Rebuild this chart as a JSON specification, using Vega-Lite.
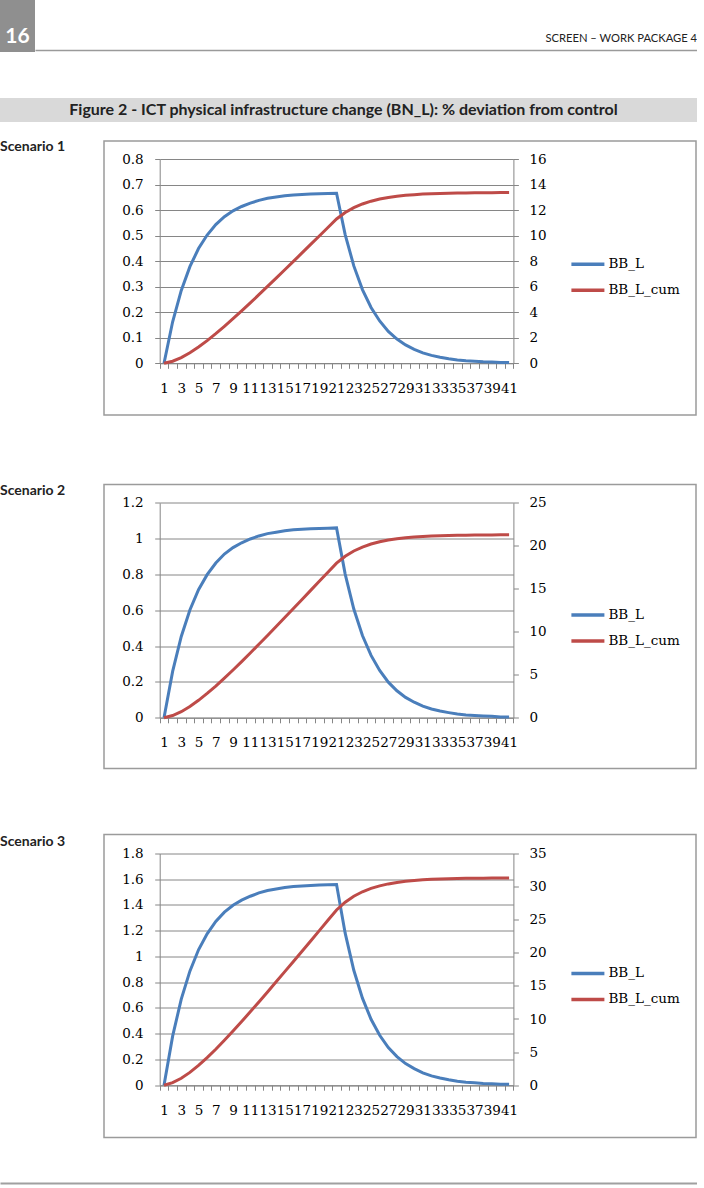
{
  "$schema": "https://vega.github.io/schema/vega-lite/v6.json",
  "padding": 0,
  "background": "white",
  "config": {
    "view": {"stroke": null},
    "axis": {"labelFont": "DejaVu Serif", "labelFontSize": 13.5, "labelColor": "#000000", "domainColor": "#868686", "tickColor": "#868686", "gridColor": "#868686", "tickSize": 5, "title": null},
    "legend": {"labelFont": "DejaVu Serif", "labelFontSize": 13.5, "labelColor": "#000000"}
  },
  "datasets": {
    "s1": [
      {"t": 1, "BB_L": 0, "BB_L_cum": 0},
      {"t": 2, "BB_L": 0.163, "BB_L_cum": 0.163},
      {"t": 3, "BB_L": 0.286, "BB_L_cum": 0.449},
      {"t": 4, "BB_L": 0.379, "BB_L_cum": 0.828},
      {"t": 5, "BB_L": 0.45, "BB_L_cum": 1.278},
      {"t": 6, "BB_L": 0.503, "BB_L_cum": 1.781},
      {"t": 7, "BB_L": 0.544, "BB_L_cum": 2.325},
      {"t": 8, "BB_L": 0.575, "BB_L_cum": 2.9},
      {"t": 9, "BB_L": 0.598, "BB_L_cum": 3.498},
      {"t": 10, "BB_L": 0.615, "BB_L_cum": 4.113},
      {"t": 11, "BB_L": 0.628, "BB_L_cum": 4.741},
      {"t": 12, "BB_L": 0.639, "BB_L_cum": 5.38},
      {"t": 13, "BB_L": 0.647, "BB_L_cum": 6.027},
      {"t": 14, "BB_L": 0.652, "BB_L_cum": 6.679},
      {"t": 15, "BB_L": 0.657, "BB_L_cum": 7.336},
      {"t": 16, "BB_L": 0.66, "BB_L_cum": 7.996},
      {"t": 17, "BB_L": 0.662, "BB_L_cum": 8.658},
      {"t": 18, "BB_L": 0.664, "BB_L_cum": 9.322},
      {"t": 19, "BB_L": 0.665, "BB_L_cum": 9.987},
      {"t": 20, "BB_L": 0.666, "BB_L_cum": 10.653},
      {"t": 21, "BB_L": 0.667, "BB_L_cum": 11.32},
      {"t": 22, "BB_L": 0.505, "BB_L_cum": 11.825},
      {"t": 23, "BB_L": 0.382, "BB_L_cum": 12.207},
      {"t": 24, "BB_L": 0.289, "BB_L_cum": 12.496},
      {"t": 25, "BB_L": 0.219, "BB_L_cum": 12.715},
      {"t": 26, "BB_L": 0.166, "BB_L_cum": 12.881},
      {"t": 27, "BB_L": 0.125, "BB_L_cum": 13.006},
      {"t": 28, "BB_L": 0.095, "BB_L_cum": 13.101},
      {"t": 29, "BB_L": 0.072, "BB_L_cum": 13.173},
      {"t": 30, "BB_L": 0.055, "BB_L_cum": 13.228},
      {"t": 31, "BB_L": 0.041, "BB_L_cum": 13.269},
      {"t": 32, "BB_L": 0.031, "BB_L_cum": 13.3},
      {"t": 33, "BB_L": 0.024, "BB_L_cum": 13.324},
      {"t": 34, "BB_L": 0.018, "BB_L_cum": 13.342},
      {"t": 35, "BB_L": 0.013, "BB_L_cum": 13.355},
      {"t": 36, "BB_L": 0.01, "BB_L_cum": 13.365},
      {"t": 37, "BB_L": 0.008, "BB_L_cum": 13.373},
      {"t": 38, "BB_L": 0.006, "BB_L_cum": 13.379},
      {"t": 39, "BB_L": 0.005, "BB_L_cum": 13.384},
      {"t": 40, "BB_L": 0.003, "BB_L_cum": 13.387},
      {"t": 41, "BB_L": 0.003, "BB_L_cum": 13.39}
    ],
    "s2": [
      {"t": 1, "BB_L": 0, "BB_L_cum": 0},
      {"t": 2, "BB_L": 0.259, "BB_L_cum": 0.259},
      {"t": 3, "BB_L": 0.454, "BB_L_cum": 0.713},
      {"t": 4, "BB_L": 0.602, "BB_L_cum": 1.316},
      {"t": 5, "BB_L": 0.715, "BB_L_cum": 2.031},
      {"t": 6, "BB_L": 0.799, "BB_L_cum": 2.83},
      {"t": 7, "BB_L": 0.864, "BB_L_cum": 3.694},
      {"t": 8, "BB_L": 0.914, "BB_L_cum": 4.608},
      {"t": 9, "BB_L": 0.95, "BB_L_cum": 5.558},
      {"t": 10, "BB_L": 0.977, "BB_L_cum": 6.536},
      {"t": 11, "BB_L": 0.998, "BB_L_cum": 7.533},
      {"t": 12, "BB_L": 1.015, "BB_L_cum": 8.549},
      {"t": 13, "BB_L": 1.028, "BB_L_cum": 9.577},
      {"t": 14, "BB_L": 1.036, "BB_L_cum": 10.613},
      {"t": 15, "BB_L": 1.044, "BB_L_cum": 11.657},
      {"t": 16, "BB_L": 1.049, "BB_L_cum": 12.706},
      {"t": 17, "BB_L": 1.052, "BB_L_cum": 13.758},
      {"t": 18, "BB_L": 1.055, "BB_L_cum": 14.813},
      {"t": 19, "BB_L": 1.057, "BB_L_cum": 15.869},
      {"t": 20, "BB_L": 1.058, "BB_L_cum": 16.928},
      {"t": 21, "BB_L": 1.06, "BB_L_cum": 17.987},
      {"t": 22, "BB_L": 0.802, "BB_L_cum": 18.79},
      {"t": 23, "BB_L": 0.607, "BB_L_cum": 19.397},
      {"t": 24, "BB_L": 0.459, "BB_L_cum": 19.856},
      {"t": 25, "BB_L": 0.348, "BB_L_cum": 20.204},
      {"t": 26, "BB_L": 0.264, "BB_L_cum": 20.468},
      {"t": 27, "BB_L": 0.199, "BB_L_cum": 20.667},
      {"t": 28, "BB_L": 0.151, "BB_L_cum": 20.817},
      {"t": 29, "BB_L": 0.114, "BB_L_cum": 20.932},
      {"t": 30, "BB_L": 0.087, "BB_L_cum": 21.019},
      {"t": 31, "BB_L": 0.065, "BB_L_cum": 21.084},
      {"t": 32, "BB_L": 0.049, "BB_L_cum": 21.134},
      {"t": 33, "BB_L": 0.038, "BB_L_cum": 21.172},
      {"t": 34, "BB_L": 0.029, "BB_L_cum": 21.2},
      {"t": 35, "BB_L": 0.021, "BB_L_cum": 21.221},
      {"t": 36, "BB_L": 0.016, "BB_L_cum": 21.237},
      {"t": 37, "BB_L": 0.013, "BB_L_cum": 21.25},
      {"t": 38, "BB_L": 0.01, "BB_L_cum": 21.259},
      {"t": 39, "BB_L": 0.008, "BB_L_cum": 21.267},
      {"t": 40, "BB_L": 0.005, "BB_L_cum": 21.272},
      {"t": 41, "BB_L": 0.005, "BB_L_cum": 21.277}
    ],
    "s3": [
      {"t": 1, "BB_L": 0, "BB_L_cum": 0},
      {"t": 2, "BB_L": 0.381, "BB_L_cum": 0.381},
      {"t": 3, "BB_L": 0.669, "BB_L_cum": 1.05},
      {"t": 4, "BB_L": 0.886, "BB_L_cum": 1.936},
      {"t": 5, "BB_L": 1.052, "BB_L_cum": 2.988},
      {"t": 6, "BB_L": 1.176, "BB_L_cum": 4.164},
      {"t": 7, "BB_L": 1.272, "BB_L_cum": 5.436},
      {"t": 8, "BB_L": 1.344, "BB_L_cum": 6.78},
      {"t": 9, "BB_L": 1.398, "BB_L_cum": 8.178},
      {"t": 10, "BB_L": 1.438, "BB_L_cum": 9.616},
      {"t": 11, "BB_L": 1.468, "BB_L_cum": 11.084},
      {"t": 12, "BB_L": 1.494, "BB_L_cum": 12.578},
      {"t": 13, "BB_L": 1.513, "BB_L_cum": 14.091},
      {"t": 14, "BB_L": 1.524, "BB_L_cum": 15.615},
      {"t": 15, "BB_L": 1.536, "BB_L_cum": 17.152},
      {"t": 16, "BB_L": 1.543, "BB_L_cum": 18.695},
      {"t": 17, "BB_L": 1.548, "BB_L_cum": 20.242},
      {"t": 18, "BB_L": 1.552, "BB_L_cum": 21.795},
      {"t": 19, "BB_L": 1.555, "BB_L_cum": 23.35},
      {"t": 20, "BB_L": 1.557, "BB_L_cum": 24.907},
      {"t": 21, "BB_L": 1.559, "BB_L_cum": 26.466},
      {"t": 22, "BB_L": 1.181, "BB_L_cum": 27.647},
      {"t": 23, "BB_L": 0.893, "BB_L_cum": 28.54},
      {"t": 24, "BB_L": 0.676, "BB_L_cum": 29.216},
      {"t": 25, "BB_L": 0.512, "BB_L_cum": 29.728},
      {"t": 26, "BB_L": 0.388, "BB_L_cum": 30.116},
      {"t": 27, "BB_L": 0.292, "BB_L_cum": 30.408},
      {"t": 28, "BB_L": 0.222, "BB_L_cum": 30.63},
      {"t": 29, "BB_L": 0.168, "BB_L_cum": 30.798},
      {"t": 30, "BB_L": 0.129, "BB_L_cum": 30.927},
      {"t": 31, "BB_L": 0.096, "BB_L_cum": 31.023},
      {"t": 32, "BB_L": 0.072, "BB_L_cum": 31.095},
      {"t": 33, "BB_L": 0.056, "BB_L_cum": 31.152},
      {"t": 34, "BB_L": 0.042, "BB_L_cum": 31.194},
      {"t": 35, "BB_L": 0.03, "BB_L_cum": 31.224},
      {"t": 36, "BB_L": 0.023, "BB_L_cum": 31.247},
      {"t": 37, "BB_L": 0.019, "BB_L_cum": 31.266},
      {"t": 38, "BB_L": 0.014, "BB_L_cum": 31.28},
      {"t": 39, "BB_L": 0.012, "BB_L_cum": 31.292},
      {"t": 40, "BB_L": 0.007, "BB_L_cum": 31.299},
      {"t": 41, "BB_L": 0.007, "BB_L_cum": 31.306}
    ],
    "header": [{"pos": 1, "label": "SCREEN – WORK PACKAGE 4"}],
    "page": [{"label": "16"}],
    "figtitle": [{"label": "Figure 2 - ICT physical infrastructure change (BN_L): % deviation from control"}],
    "footer": [{"pos": 0.5}],
    "lab1": [{"px": 0, "py": 1, "label": "Scenario 1"}],
    "lab2": [{"px": 0, "py": 1, "label": "Scenario 2"}],
    "lab3": [{"px": 0, "py": 1, "label": "Scenario 3"}]
  },
  "concat": [
    {
      "hconcat": [
        {
          "width": 35, "height": 52,
          "view": {"fill": "#8f8f8f", "stroke": null},
          "data": {"name": "page"},
          "mark": {"type": "text", "color": "#ffffff", "fontWeight": "bold", "fontSize": 21, "font": "Lato", "baseline": "middle", "dy": 11},
          "encoding": {"text": {"field": "label", "type": "nominal"}}
        },
        {
          "width": 662, "height": 50,
          "data": {"name": "header"},
          "mark": {"type": "text", "align": "right", "baseline": "alphabetic", "dy": 17, "fontSize": 11.2, "color": "#222222", "font": "Lato"},
          "encoding": {
            "x": {"field": "pos", "type": "quantitative", "scale": {"domain": [0, 1]}, "axis": {"domain": true, "domainColor": "#9a9a9a", "domainWidth": 1.5, "labels": false, "ticks": false, "grid": false, "title": null}},
            "text": {"field": "label", "type": "nominal"}
          }
        }
      ],
      "spacing": 0
    },
    {
      "concat": [
        {
          "concat": [
            {
              "width": 697, "height": 24,
              "view": {"fill": "#d9d9d9", "stroke": null},
              "data": {"name": "figtitle"},
              "mark": {"type": "text", "fontWeight": "bold", "fontSize": 16, "color": "#222222", "baseline": "middle", "font": "Lato", "dx": -5},
              "encoding": {"text": {"field": "label", "type": "nominal"}}
            },
            {
              "concat": [
                {
                  "hconcat": [
                    {
                      "width": 103, "height": 274,
                      "data": {"name": "lab1"},
                      "mark": {"type": "text", "align": "left", "baseline": "middle", "dy": 6, "font": "Lato", "fontSize": 14, "fontWeight": "bold", "color": "#222222"},
                      "encoding": {
                        "x": {"field": "px", "type": "quantitative", "scale": {"domain": [0, 1]}, "axis": null},
                        "y": {"field": "py", "type": "quantitative", "scale": {"domain": [0, 1]}, "axis": null},
                        "text": {"field": "label", "type": "nominal"}
                      }
                    },
                    {
                      "width": 592, "height": 274,
                      "view": {"stroke": "#9b9b9b", "strokeWidth": 1.5},
                      "data": {"name": "s1"},
                      "encoding": {
                        "x": {"field": "t", "type": "ordinal", "scale": {"type": "band", "range": [55.7, 409.4], "paddingInner": 0, "paddingOuter": 0},
                          "axis": {"orient": "bottom", "offset": -51.7, "tickBand": "extent", "labelAngle": 0, "labelOverlap": false, "labelBound": false, "labelFlush": false, "labelPadding": 13, "labelExpr": "datum.value % 2 == 1 ? datum.label : ''", "grid": false}}
                      },
                      "layer": [
                        {
                          "mark": {"type": "line", "strokeWidth": 3},
                          "encoding": {
                            "y": {"field": "BB_L", "type": "quantitative", "scale": {"domain": [0, 0.8], "range": [222.3, 18.3]},
                              "axis": {"orient": "left", "offset": -55.7, "values": [0, 0.1, 0.2, 0.3, 0.4, 0.5, 0.6, 0.7, 0.8], "format": "~g", "grid": true, "labelPadding": 11.5}},
                            "color": {"datum": "BB_L", "type": "nominal", "scale": {"domain": ["BB_L", "BB_L_cum"], "range": ["#4a7ebb", "#be4b48"]},
                              "legend": {"orient": "none", "legendX": 465.4, "legendY": 104.7, "title": null, "symbolType": "stroke", "symbolSize": 1089, "symbolStrokeWidth": 3.5, "labelOffset": 2, "rowPadding": -2, "padding": 0}}
                          }
                        },
                        {
                          "mark": {"type": "line", "strokeWidth": 3},
                          "encoding": {
                            "y": {"field": "BB_L_cum", "type": "quantitative", "scale": {"domain": [0, 16], "range": [222.3, 18.3]},
                              "axis": {"orient": "right", "offset": -182.6, "values": [0, 2, 4, 6, 8, 10, 12, 14, 16], "grid": false, "labelPadding": 10.5}},
                            "color": {"datum": "BB_L_cum", "type": "nominal"}
                          }
                        }
                      ],
                      "resolve": {"scale": {"y": "independent"}, "axis": {"y": "independent"}}
                    }
                  ],
                  "spacing": 0,
                  "resolve": {"scale": {"color": "independent"}, "legend": {"color": "independent"}}
                },
                {
                  "concat": [
                    {
                      "hconcat": [
                        {
                          "width": 103, "height": 284,
                          "data": {"name": "lab2"},
                          "mark": {"type": "text", "align": "left", "baseline": "middle", "dy": 6, "font": "Lato", "fontSize": 14, "fontWeight": "bold", "color": "#222222"},
                          "encoding": {
                            "x": {"field": "px", "type": "quantitative", "scale": {"domain": [0, 1]}, "axis": null},
                            "y": {"field": "py", "type": "quantitative", "scale": {"domain": [0, 1]}, "axis": null},
                            "text": {"field": "label", "type": "nominal"}
                          }
                        },
                        {
                          "width": 592, "height": 284,
                          "view": {"stroke": "#9b9b9b", "strokeWidth": 1.5},
                          "data": {"name": "s2"},
                          "encoding": {
                            "x": {"field": "t", "type": "ordinal", "scale": {"type": "band", "range": [55.7, 409.4], "paddingInner": 0, "paddingOuter": 0},
                              "axis": {"orient": "bottom", "offset": -50.7, "tickBand": "extent", "labelAngle": 0, "labelOverlap": false, "labelBound": false, "labelFlush": false, "labelPadding": 13, "labelExpr": "datum.value % 2 == 1 ? datum.label : ''", "grid": false}}
                          },
                          "layer": [
                            {
                              "mark": {"type": "line", "strokeWidth": 3},
                              "encoding": {
                                "y": {"field": "BB_L", "type": "quantitative", "scale": {"domain": [0, 1.2], "range": [233.3, 18.3]},
                                  "axis": {"orient": "left", "offset": -55.7, "values": [0, 0.2, 0.4, 0.6, 0.8, 1, 1.2], "format": "~g", "grid": true, "labelPadding": 11.5}},
                                "color": {"datum": "BB_L", "type": "nominal", "scale": {"domain": ["BB_L", "BB_L_cum"], "range": ["#4a7ebb", "#be4b48"]},
                                  "legend": {"orient": "none", "legendX": 465.4, "legendY": 112, "title": null, "symbolType": "stroke", "symbolSize": 1089, "symbolStrokeWidth": 3.5, "labelOffset": 2, "rowPadding": -2, "padding": 0}}
                              }
                            },
                            {
                              "mark": {"type": "line", "strokeWidth": 3},
                              "encoding": {
                                "y": {"field": "BB_L_cum", "type": "quantitative", "scale": {"domain": [0, 25], "range": [233.3, 18.3]},
                                  "axis": {"orient": "right", "offset": -182.6, "values": [0, 5, 10, 15, 20, 25], "grid": false, "labelPadding": 10.5}},
                                "color": {"datum": "BB_L_cum", "type": "nominal"}
                              }
                            }
                          ],
                          "resolve": {"scale": {"y": "independent"}, "axis": {"y": "independent"}}
                        }
                      ],
                      "spacing": 0,
                      "resolve": {"scale": {"color": "independent"}, "legend": {"color": "independent"}}
                    },
                    {
                      "hconcat": [
                        {
                          "width": 103, "height": 303,
                          "data": {"name": "lab3"},
                          "mark": {"type": "text", "align": "left", "baseline": "middle", "dy": 7, "font": "Lato", "fontSize": 14, "fontWeight": "bold", "color": "#222222"},
                          "encoding": {
                            "x": {"field": "px", "type": "quantitative", "scale": {"domain": [0, 1]}, "axis": null},
                            "y": {"field": "py", "type": "quantitative", "scale": {"domain": [0, 1]}, "axis": null},
                            "text": {"field": "label", "type": "nominal"}
                          }
                        },
                        {
                          "width": 592, "height": 303,
                          "view": {"stroke": "#9b9b9b", "strokeWidth": 1.5},
                          "data": {"name": "s3"},
                          "encoding": {
                            "x": {"field": "t", "type": "ordinal", "scale": {"type": "band", "range": [55.7, 409.4], "paddingInner": 0, "paddingOuter": 0},
                              "axis": {"orient": "bottom", "offset": -52.3, "tickBand": "extent", "labelAngle": 0, "labelOverlap": false, "labelBound": false, "labelFlush": false, "labelPadding": 13, "labelExpr": "datum.value % 2 == 1 ? datum.label : ''", "grid": false}}
                          },
                          "layer": [
                            {
                              "mark": {"type": "line", "strokeWidth": 3},
                              "encoding": {
                                "y": {"field": "BB_L", "type": "quantitative", "scale": {"domain": [0, 1.8], "range": [250.7, 19]},
                                  "axis": {"orient": "left", "offset": -55.7, "values": [0, 0.2, 0.4, 0.6, 0.8, 1, 1.2, 1.4, 1.6, 1.8], "format": "~g", "grid": true, "labelPadding": 11.5}},
                                "color": {"datum": "BB_L", "type": "nominal", "scale": {"domain": ["BB_L", "BB_L_cum"], "range": ["#4a7ebb", "#be4b48"]},
                                  "legend": {"orient": "none", "legendX": 465.4, "legendY": 120.4, "title": null, "symbolType": "stroke", "symbolSize": 1089, "symbolStrokeWidth": 3.5, "labelOffset": 2, "rowPadding": -2, "padding": 0}}
                              }
                            },
                            {
                              "mark": {"type": "line", "strokeWidth": 3},
                              "encoding": {
                                "y": {"field": "BB_L_cum", "type": "quantitative", "scale": {"domain": [0, 35], "range": [250.7, 19]},
                                  "axis": {"orient": "right", "offset": -182.6, "values": [0, 5, 10, 15, 20, 25, 30, 35], "grid": false, "labelPadding": 10.5}},
                                "color": {"datum": "BB_L_cum", "type": "nominal"}
                              }
                            }
                          ],
                          "resolve": {"scale": {"y": "independent"}, "axis": {"y": "independent"}}
                        }
                      ],
                      "spacing": 0,
                      "resolve": {"scale": {"color": "independent"}, "legend": {"color": "independent"}}
                    }
                  ],
                  "columns": 1, "align": "none", "spacing": 64,
                  "resolve": {"scale": {"color": "independent"}, "legend": {"color": "independent"}}
                }
              ],
              "columns": 1, "align": "none", "spacing": 67.5,
              "resolve": {"scale": {"color": "independent"}, "legend": {"color": "independent"}}
            }
          ],
          "columns": 1, "align": "none", "spacing": 18
        },
        {
          "width": 697, "height": 1,
          "data": {"name": "footer"},
          "mark": {"type": "point", "opacity": 0},
          "encoding": {
            "x": {"field": "pos", "type": "quantitative", "scale": {"domain": [0, 1]}, "axis": {"domain": true, "domainColor": "#a0a0a0", "domainWidth": 2, "labels": false, "ticks": false, "grid": false, "title": null}}
          }
        }
      ],
      "columns": 1, "align": "none", "spacing": 40
    }
  ],
  "columns": 1, "align": "none", "spacing": 46
}
